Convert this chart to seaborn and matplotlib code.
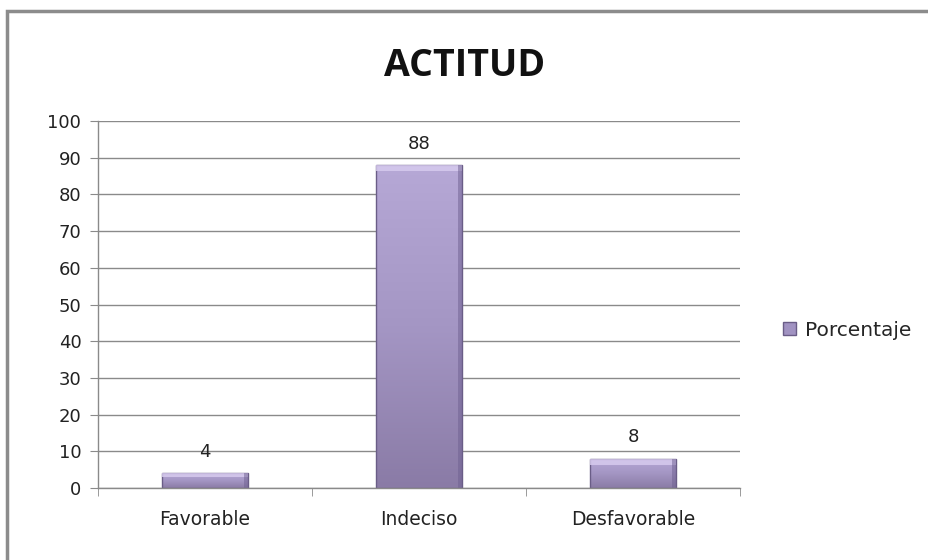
import matplotlib
matplotlib.use("Agg")
import matplotlib.pyplot as plt
import matplotlib.patches as mpatches
from matplotlib.colors import LinearSegmentedColormap
import numpy as np
import pandas as pd
import seaborn as sns

categories = ["Favorable", "Indeciso", "Desfavorable"]
porcentaje = [4, 88, 8]
y_ticks = list(range(0, 101, 10))

df = pd.DataFrame({"categoria": categories, "Porcentaje": porcentaje})

sns.set_style("white")
plt.rcParams["font.family"] = ["DejaVu Sans"]

fig = plt.figure(figsize=(9.29, 5.6), dpi=100)
ax = fig.add_axes([98 / 929, 1 - 488 / 560, 642 / 929, 367 / 560])

bar_color = "#a193c2"
sns.barplot(data=df, x="categoria", y="Porcentaje", ax=ax, color=bar_color,
            width=0.4, edgecolor="#6a5d87", linewidth=1.0, saturation=1)

# shaded fill like the office bevel style
grad = LinearSegmentedColormap.from_list("bev", ["#8a7ba6", "#a496c4", "#b6a8d6"])
vals = np.linspace(0, 1, 256).reshape(-1, 1)
for p in list(ax.patches):
    x0, w, h = p.get_x(), p.get_width(), p.get_height()
    im = ax.imshow(vals, cmap=grad, extent=(x0, x0 + w, 0, h), origin="lower",
                   aspect="auto", zorder=p.get_zorder() + 0.1)
    im.set_clip_path(p)
    p.set_facecolor("none")
    p.set_zorder(p.get_zorder() + 0.2)
    # light top edge, dark right edge
    top = mpatches.Rectangle((x0, h), w, -min(1.6, h * 0.25), facecolor="#d9cdf0",
                             edgecolor="none", alpha=0.8, zorder=p.get_zorder() + 0.05)
    ax.add_patch(top)
    right = mpatches.Rectangle((x0 + w * 0.95, 0), w * 0.05, h, facecolor="#6e6090",
                               edgecolor="none", alpha=0.5, zorder=p.get_zorder() + 0.05)
    ax.add_patch(right)

for x, v in enumerate(porcentaje):
    ax.annotate(str(v), (x, v), xytext=(0, 9), textcoords="offset points",
                ha="center", va="bottom", fontsize=13, color="#222222")

ax.set_ylim(0, 100)
ax.set_xlim(-0.5, 2.5)
ax.set_yticks(y_ticks)
ax.set_xticks([0, 1, 2])
ax.set_xticklabels(categories)
ax.set_xlabel("")
ax.set_ylabel("")
ax.yaxis.grid(True, color="#8a8a8a", linewidth=1)
ax.set_axisbelow(True)
for side in ["top", "right"]:
    ax.spines[side].set_visible(False)
for side in ["left", "bottom"]:
    ax.spines[side].set_color("#8a8a8a")
    ax.spines[side].set_linewidth(1)

ax.tick_params(axis="y", which="major", left=True, length=6, color="#8a8a8a",
               labelsize=13, pad=6, labelcolor="#222222")
ax.tick_params(axis="x", which="major", bottom=False, labelsize=13.5, pad=12,
               labelcolor="#222222")
ax.set_xticks([-0.5, 0.5, 1.5, 2.5], minor=True)
ax.tick_params(axis="x", which="minor", bottom=True, length=6, color="#8a8a8a")

fig.text(465 / 929, 1 - 66 / 560, "ACTITUD", ha="center", va="center",
         fontsize=27, fontweight="bold", color="#111111",
         family=["Open Sans", "DejaVu Sans"])

handle = mpatches.Patch(facecolor=bar_color, edgecolor="#6a5d87", label="Porcentaje")
fig.legend(handles=[handle], loc="center left", bbox_to_anchor=(765 / 929, 1 - 330 / 560),
           frameon=False, fontsize=14.5, handlelength=0.65, handleheight=0.65,
           handletextpad=0.45)

border = mpatches.Rectangle((7 / 929, -0.05), 1.1, 1 - 11 / 560 + 0.05,
                            transform=fig.transFigure, fill=False,
                            edgecolor="#8c8c8c", linewidth=2.5)
fig.patches.append(border)

fig.savefig("out.png", dpi=100)
